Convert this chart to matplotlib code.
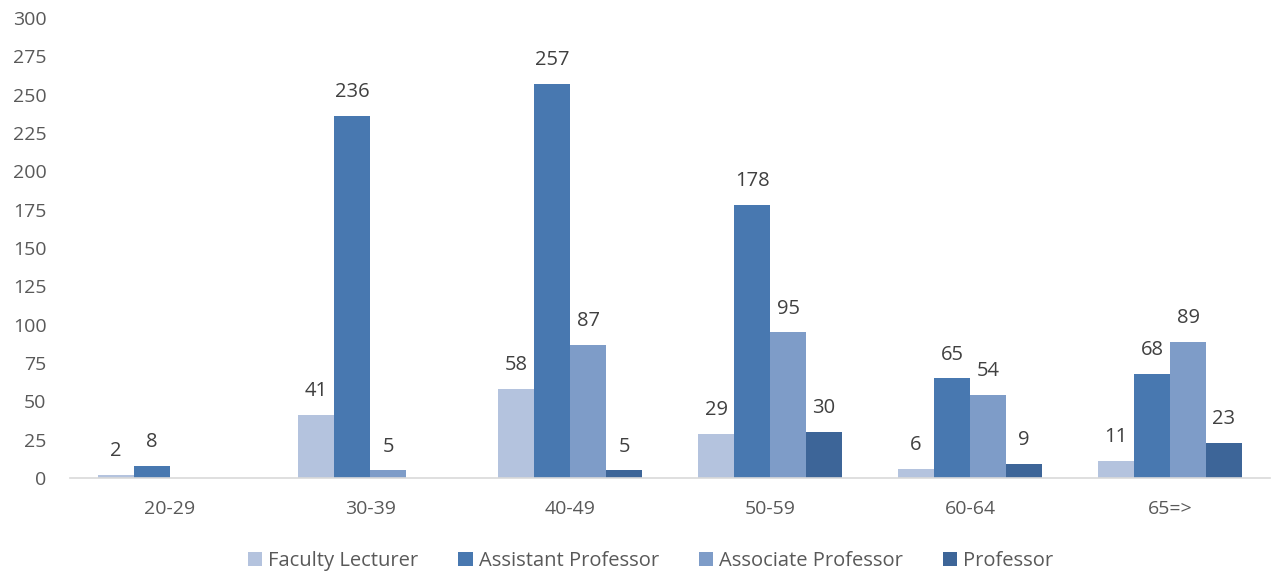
import matplotlib
matplotlib.use("Agg")
import matplotlib.pyplot as plt
import numpy as np

categories = ["20-29", "30-39", "40-49", "50-59", "60-64", "65=>"]
series_names = ["Faculty Lecturer", "Assistant Professor", "Associate Professor", "Professor"]
faculty_lecturer = [2, 41, 58, 29, 6, 11]
assistant_professor = [8, 236, 257, 178, 65, 68]
associate_professor = [None, 5, 87, 95, 54, 89]
professor = [None, None, 5, 30, 9, 23]
y_ticks = [0, 25, 50, 75, 100, 125, 150, 175, 200, 225, 250, 275, 300]

colors = ["#B4C3DE", "#4878B0", "#7E9CC8", "#3D6598"]
series = [faculty_lecturer, assistant_professor, associate_professor, professor]

plt.rcParams['font.family'] = ['Open Sans', 'DejaVu Sans']
fig = plt.figure(figsize=(12.71, 5.76), dpi=100)
ax = fig.add_axes([70 / 1271, 1 - 478 / 576, 1200 / 1271, 460 / 576])

x = np.arange(len(categories))
w = 0.18
for i, (vals, name, c) in enumerate(zip(series, series_names, colors)):
    xs = [xi + (i - 1.5) * w for xi, v in zip(x, vals) if v is not None]
    vs = [v for v in vals if v is not None]
    ax.bar(xs, vs, width=w, color=c, label=name, edgecolor="none")
    for bx, v in zip(xs, vs):
        ax.annotate(str(v), (bx, v), xytext=(0, 13.5), textcoords="offset points",
                    ha="center", va="baseline", fontsize=14.5, color="#404040")

ax.set_xlim(-0.5, len(categories) - 0.5)
ax.set_ylim(0, 300)
ax.set_yticks(y_ticks)
ax.set_xticks(x)
ax.set_xticklabels(categories)
ax.tick_params(axis="both", length=0, labelsize=14, colors="#595959")
ax.tick_params(axis="x", pad=16)
ax.tick_params(axis="y", pad=17)
for s in ["top", "right", "left"]:
    ax.spines[s].set_visible(False)
ax.spines["bottom"].set_color("#D9D9D9")
ax.spines["bottom"].set_linewidth(1.2)

leg = fig.legend(loc="center", bbox_to_anchor=(0.512, 15 / 576), ncol=4, frameon=False,
                 fontsize=14.5, handlelength=0.7, handleheight=0.7, handletextpad=0.3,
                 columnspacing=2.0)
for t in leg.get_texts():
    t.set_color("#595959")

fig.savefig("out.png", dpi=100)
